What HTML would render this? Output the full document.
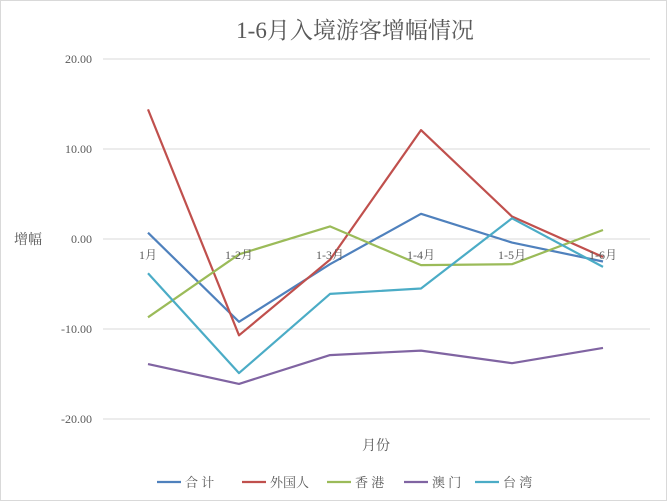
<!DOCTYPE html>
<html><head><meta charset="utf-8"><style>
body{margin:0;background:#fff;}
svg{display:block;font-family:"Liberation Serif","Noto Serif CJK SC",serif;}
</style></head><body>
<svg width="667" height="501">
<rect x="0.5" y="0.5" width="666" height="500" fill="#fff" stroke="#d9d9d9"/>
<text x="355" y="38" font-size="23" fill="#595959" text-anchor="middle">1-6月入境游客增幅情况</text>
<g id="grid"></g><g id="series"></g><g id="labels"></g>
<text x="28" y="244" font-size="14" fill="#595959" text-anchor="middle">增幅</text>
<text x="376" y="450" font-size="14" fill="#595959" text-anchor="middle">月份</text>
<g id="legend"></g>
</svg>
<script>
const categories=["1月","1-2月","1-3月","1-4月","1-5月","1-6月"];
const yTicks=[20,10,0,-10,-20];
const seriesNames=["合 计","外国人","香 港","澳 门","台 湾"];
const seriesColors=["#4F81BD","#C0504D","#9BBB59","#8064A2","#4BACC6"];
const totalVals=[0.7,-9.2,-2.8,2.8,-0.4,-2.5];
const foreignVals=[14.4,-10.7,-2.3,12.1,2.5,-2.0];
const hkVals=[-8.7,-1.7,1.4,-2.9,-2.8,1.0];
const macauVals=[-13.9,-16.1,-12.9,-12.4,-13.8,-12.1];
const taiwanVals=[-3.8,-14.9,-6.1,-5.5,2.3,-3.1];
const allVals=[totalVals,foreignVals,hkVals,macauVals,taiwanVals];
const NS="http://www.w3.org/2000/svg";
const y=v=>239-v*9;
const x=i=>148+i*91;
function mk(t,a,p){const e=document.createElementNS(NS,t);for(const k in a)e.setAttribute(k,a[k]);document.getElementById(p).appendChild(e);return e;}
yTicks.forEach(v=>{
 const l=mk("line",{x1:103,x2:650,y1:y(v),y2:y(v),stroke:"#d9d9d9","stroke-width":1},"grid");
 
 
 const t=mk("text",{x:92,y:y(v)+4,"font-size":12,fill:"#595959","text-anchor":"end"},"labels");
 t.textContent=v.toFixed(2);
 
 
});
categories.forEach((c,i)=>{
 const t=mk("text",{x:x(i),y:259,"font-size":12,fill:"#595959","text-anchor":"middle"},"labels");
 t.textContent=c;
 
 
});
allVals.forEach((vals,s)=>{
 const p=mk("polyline",{points:vals.map((v,i)=>x(i)+","+y(v)).join(" "),fill:"none",stroke:seriesColors[s],"stroke-width":2.2,"stroke-linejoin":"round"},"series");
 
 
});
const lx=[157,242,327,404,475];
seriesNames.forEach((n,s)=>{
 const l=mk("line",{x1:lx[s],x2:lx[s]+24,y1:482,y2:482,stroke:seriesColors[s],"stroke-width":2.2},"legend");
 
 
 const t=mk("text",{x:lx[s]+28,y:487,"font-size":13,fill:"#595959"},"legend");
 t.textContent=n;
 
 
});
</script>
</body></html>
